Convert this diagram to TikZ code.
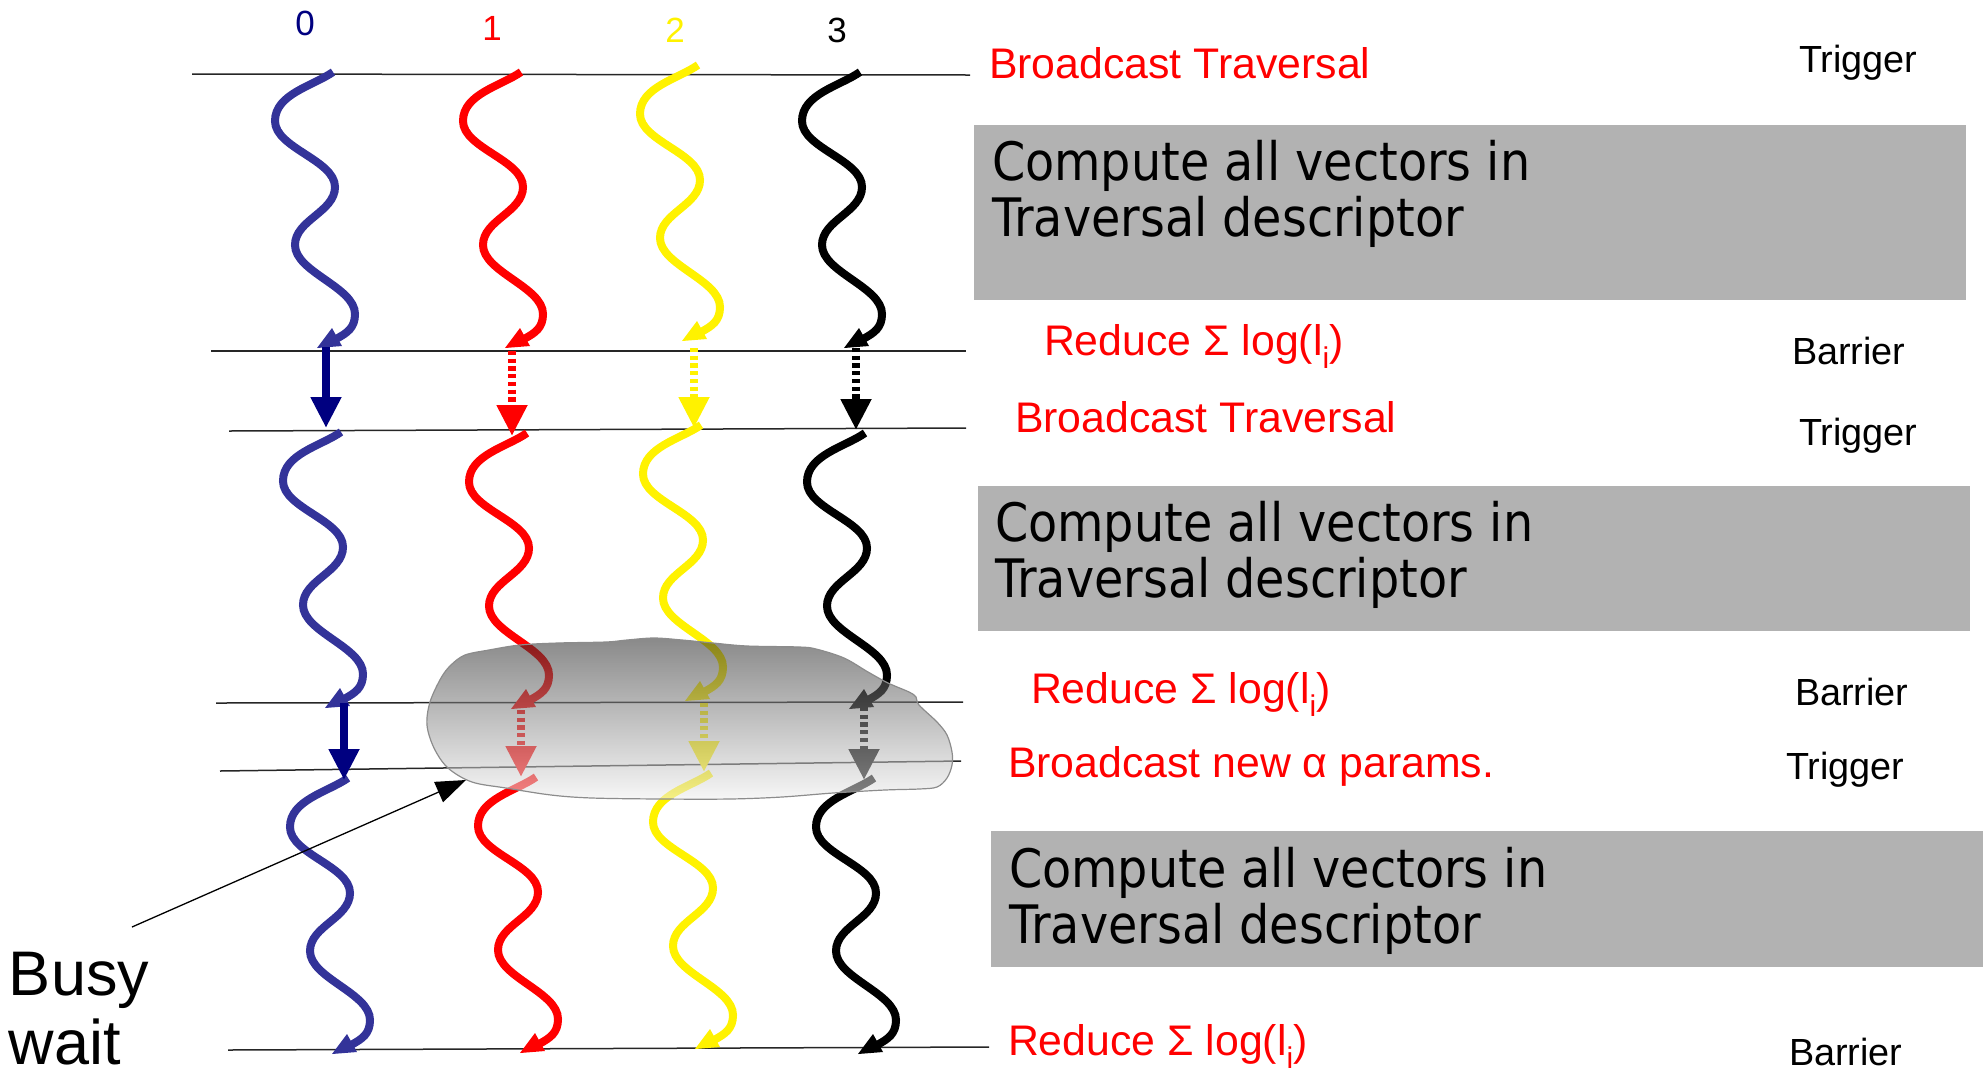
\documentclass[tikz,border=0pt]{standalone}
\usepackage{fontspec}
\setmainfont{Liberation Sans}
\newfontfamily\stagefont[FakeStretch=0.9]{DejaVu Sans}
\usetikzlibrary{positioning,arrows.meta}
\definecolor{navy}{rgb}{0,0,0.5}
\definecolor{wavenavy}{rgb}{0.2,0.2,0.6}
\definecolor{boxgray}{rgb}{0.7,0.7,0.7}

\newcommand{\thread}[3]{%
  \begin{scope}[shift={(#2,#3)}]
    \draw[wave, draw=#1] (0,0) .. controls (-20,14) and (-58,22) .. (-58,49)
      .. controls (-58,76) and (2,88) .. (2,115)
      .. controls (2,140) and (-38,148) .. (-38,173)
      .. controls (-38,200) and (22,215) .. (22,242)
      .. controls (22,256) and (14,261) .. (3,267);
    \fill[#1] (-1,256) -- (-16,276) -- (9,274) -- cycle;
  \end{scope}}

\begin{document}
\begin{tikzpicture}[x=1pt, y=-1pt,
    every node/.style = {inner sep=0pt, outer sep=0pt},
    phase/.style = {anchor=base west, text=red, font=\fontsize{42.8}{50}\selectfont},
    kind/.style = {anchor=base west, font=\fontsize{37.8}{45}\selectfont},
    rank/.style = {anchor=base, font=\fontsize{35}{42}\selectfont},
    stage/.style = {anchor=north west, fill=boxgray},
    stagetext/.style = {anchor=base west, align=left, font=\stagefont\fontsize{53}{56}\selectfont},
    sync/.style = {draw=black!85, line width=1.5pt},
    wave/.style = {line width=8pt},
    hand/.style = {line width=8pt, -{Triangle[length=31pt, width=29pt]}},
    handdash/.style = {hand, dash pattern=on 4.3pt off 3.4pt},
    pointer/.style = {line width=1.3pt, -{Triangle[length=30pt, width=22pt]}}
  ]
    \useasboundingbox (0,0) rectangle (1983,1072);

    \foreach \xa/\ya/\xb/\yb in {192/74/970/75, 211/351/966/351, 229/431/966/428,
                                 216/703/963/702, 220/771/961/761, 228/1050/989/1047}
      {\draw[sync] (\xa,\ya) -- (\xb,\yb);}

    \node[rank, text=navy] (r0) at (305,35) {0};
    \node[rank, text=red] (r1) at (492,40) {1};
    \node[rank, text=yellow] (r2) at (675,42) {2};
    \node[rank] (r3) at (837,42) {3};

    \node[stage, minimum width=992pt, minimum height=175pt] (stage1) at (974,125) {};
    \node[stage, minimum width=992pt, minimum height=145pt] (stage2) at (978,486) {};
    \node[stage, minimum width=992pt, minimum height=136pt] (stage3) at (991,831) {};
    \node[stagetext] (job1) at (992,236) {Compute all vectors in\\Traversal descriptor};
    \node[stagetext] (job2) at (995,597) {Compute all vectors in\\Traversal descriptor};
    \node[stagetext] (job3) at (1009,943) {Compute all vectors in\\Traversal descriptor};

    \node[phase] (bcast1) at (989,78) {Broadcast Traversal};
    \node[phase] (reduce1) at (1044,355) {Reduce Σ log(l\textsubscript{i})};
    \node[phase] (bcast2) at (1015,432) {Broadcast Traversal};
    \node[phase] (reduce2) at (1031,703) {Reduce Σ log(l\textsubscript{i})};
    \node[phase] (bcast3) at (1008,777) {Broadcast new α params.};
    \node[phase] (reduce3) at (1008,1055) {Reduce Σ log(l\textsubscript{i})};

    \node[kind] (trig1) at (1799,72) {Trigger};
    \node[kind] (bar1) at (1792,364) {Barrier};
    \node[kind] (trig2) at (1799,445) {Trigger};
    \node[kind] (bar2) at (1795,705) {Barrier};
    \node[kind] (trig3) at (1786,779) {Trigger};
    \node[kind] (bar3) at (1789,1065) {Barrier};

    \foreach \col/\x/\y in {wavenavy/333/72, red/521/72, yellow/698/65, black/860/72,
                            wavenavy/341/432, red/527/433, yellow/701/425, black/865/433,
                            wavenavy/348/778, red/536/777, yellow/711/773, black/874/778}
      {\thread{\col}{\x}{\y}}

    \coordinate (s0) at (326,347);
    \coordinate (e0) at (326,428);
    \coordinate (s4) at (344,703);
    \coordinate (e4) at (344,780);
    \draw[hand, color=navy] (s0) -- (e0);
    \draw[hand, color=navy] (s4) -- (e4);
    \foreach \col/\x/\ya/\yb [count=\i] in {red/512/351/436, yellow/694/348/428, black/856/348/430,
                                          red/521/710/777, yellow/704/703/772, black/864/707/780}
      {\coordinate (s\i) at (\x,\ya);
       \coordinate (e\i) at (\x,\yb);
       \draw[handdash, color=\col] (s\i) -- (e\i);}

    \path[draw=black!45, line width=1.2pt, top color=black!84, bottom color=black!6, fill opacity=0.55]
      plot[smooth cycle, tension=0.55] coordinates {
        (465,655) (489,650) (520,645) (558,643) (606,642) (627,640) (654,638) (682,640)
        (713,643) (747,646) (799,647) (816,649) (844,658) (868,672) (888,683) (909,692)
        (916,697) (919,705) (937,722) (947,735) (952,752) (952,765) (947,778) (937,787)
        (919,789) (885,790) (833,793) (782,797) (730,799) (661,799) (592,798) (551,795)
        (506,788) (472,782) (448,768) (434,748) (427,725) (430,702) (441,678) (451,665)};

    \node[anchor=base west, align=left, font=\fontsize{63}{69}\selectfont] (busy) at (9,1064) {Busy\\wait};
    \coordinate (bwtail) at (132,927);
    \coordinate (bwtip) at (466,780);
    \draw[pointer] (bwtail) -- (bwtip);
\end{tikzpicture}
\end{document}
